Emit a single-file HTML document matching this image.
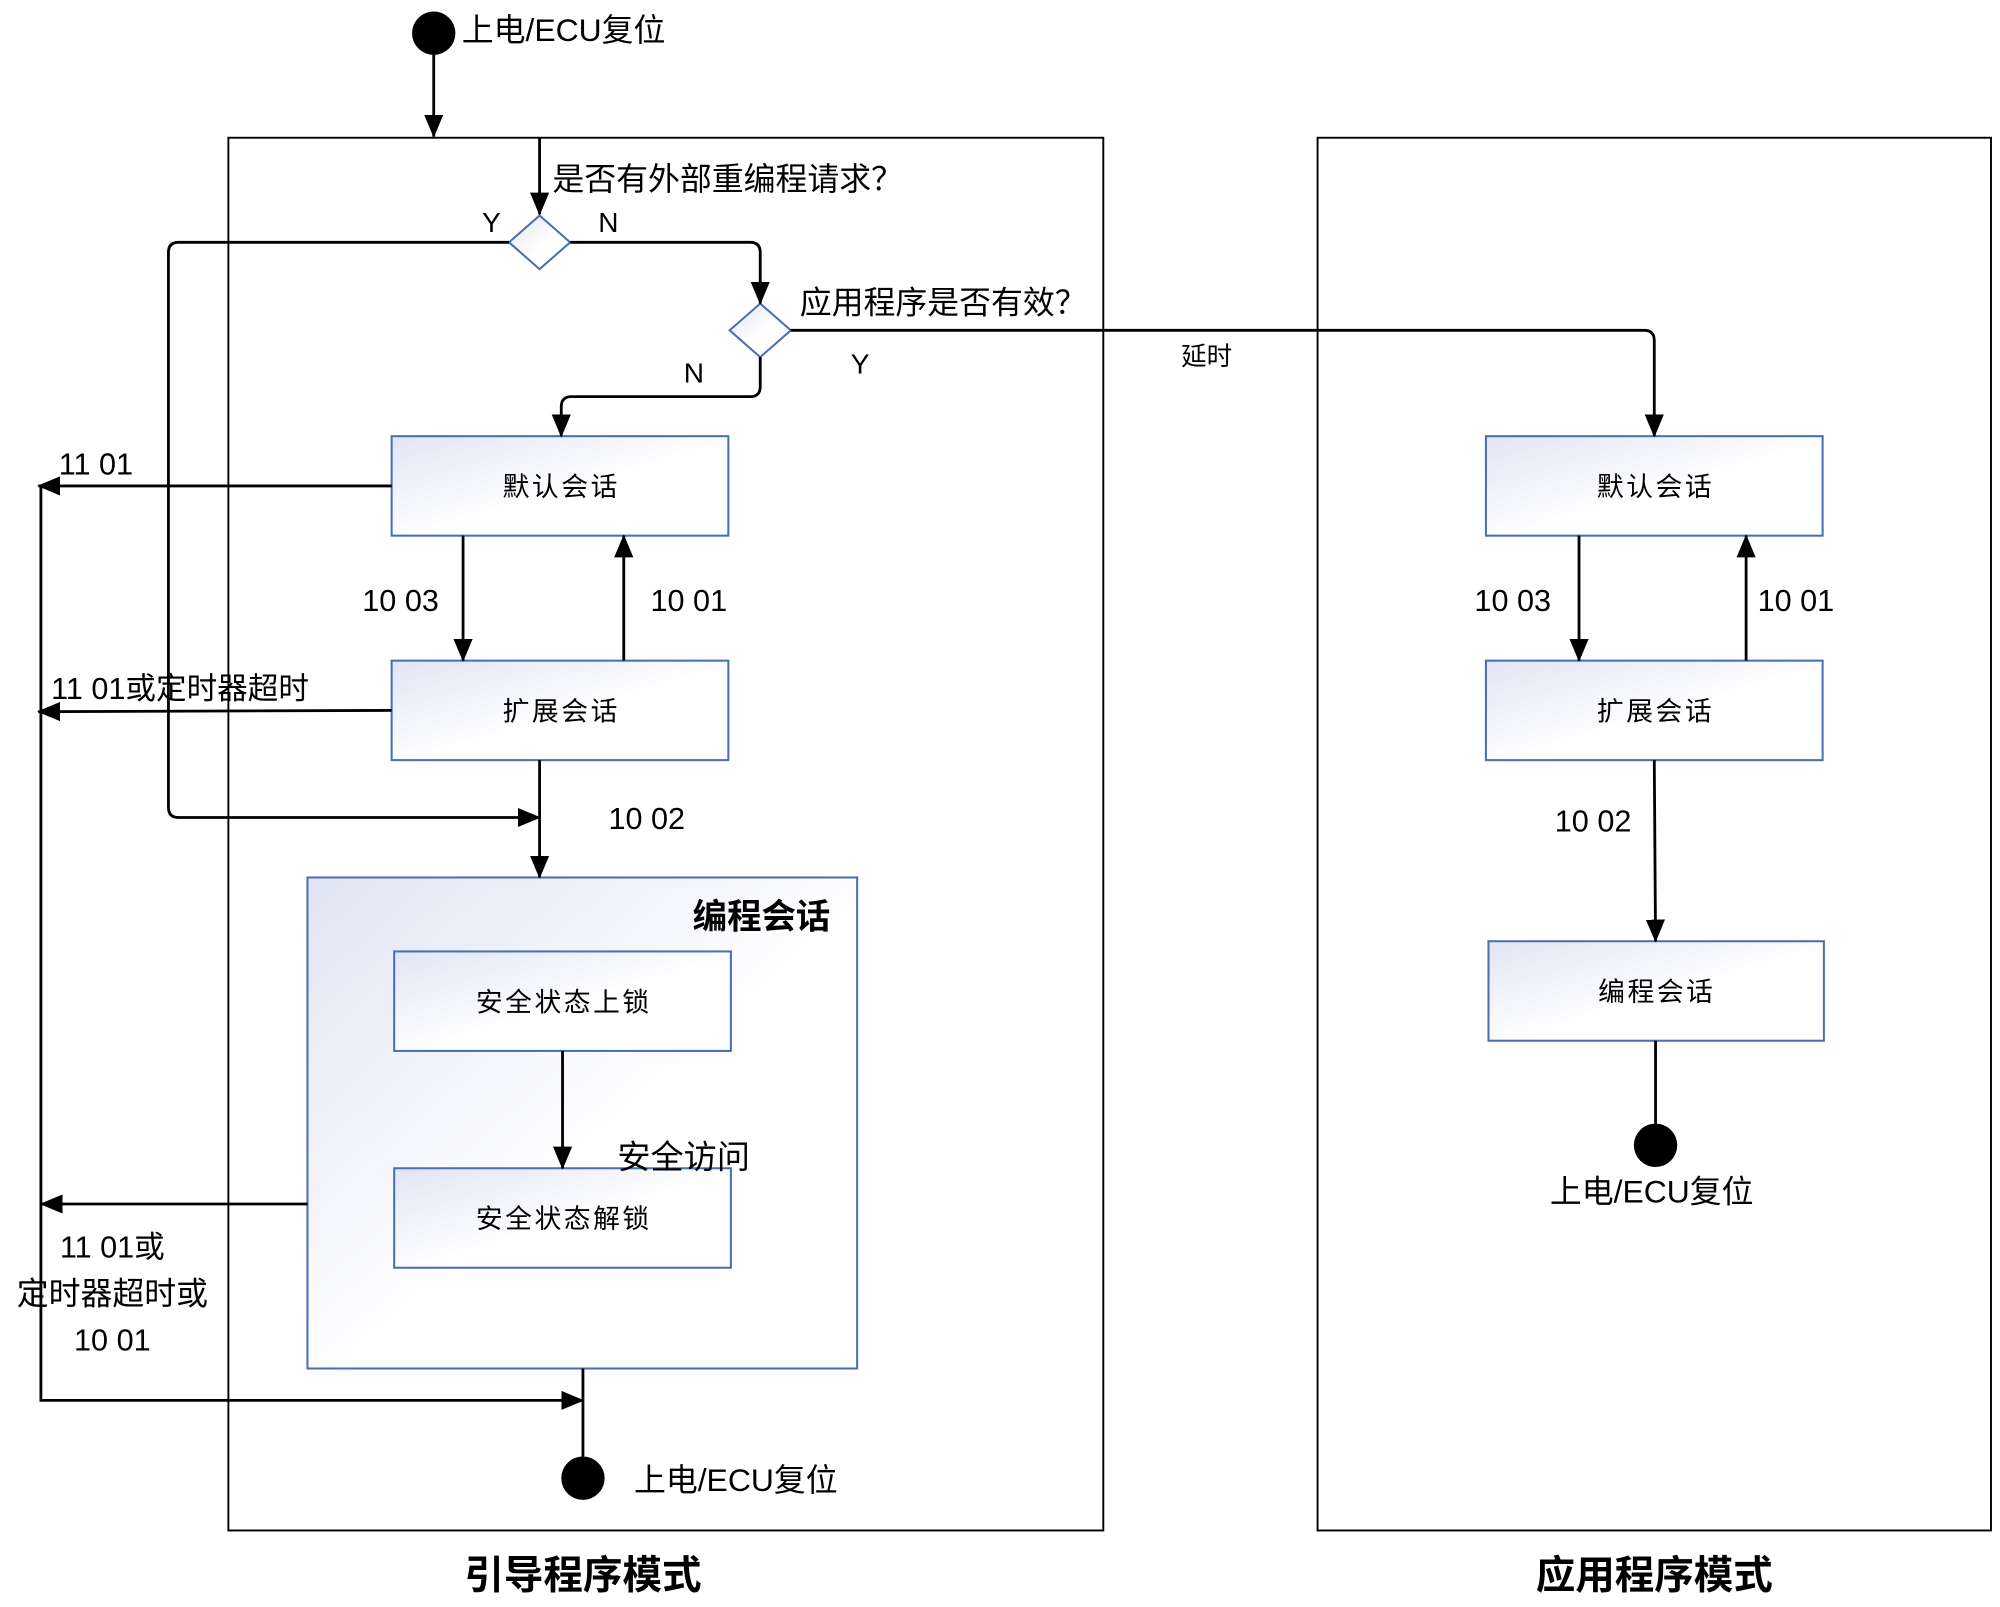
<!DOCTYPE html>
<html><head><meta charset="utf-8">
<style>
html,body{margin:0;padding:0;background:#fff;}
svg{display:block;}
text{font-family:"Liberation Sans","Noto Sans CJK SC",sans-serif;fill:#000;}
.c{font-family:"Noto Sans CJK SC",sans-serif;}
</style></head>
<body>
<svg width="2000" height="1607" viewBox="0 0 1568 1260" xmlns="http://www.w3.org/2000/svg">
<defs>
<linearGradient id="g" x1="0" y1="0" x2="1" y2="1">
<stop offset="0" stop-color="#e1e5f4"/><stop offset="0.55" stop-color="#ffffff"/><stop offset="1" stop-color="#ffffff"/>
</linearGradient>
<marker id="b" markerWidth="18" markerHeight="18" refX="17" refY="9" orient="auto" markerUnits="userSpaceOnUse" viewBox="0 0 18 18">
<path d="M0,1.5 L18,9 L0,16.5 z" fill="#000"/></marker>
</defs>
<g fill="none" stroke="#000" stroke-width="1.5">
<rect x="179" y="108" width="686" height="1092"/>
<rect x="1033" y="108" width="528" height="1092"/>
</g>
<g stroke="#4a6fb0" stroke-width="1.6" fill="url(#g)">
<rect x="241" y="688" width="431" height="385"/>
<rect x="307" y="342" width="264" height="78"/>
<rect x="307" y="518" width="264" height="78"/>
<rect x="309" y="746" width="264" height="78"/>
<rect x="309" y="916" width="264" height="78"/>
<rect x="1165" y="342" width="264" height="78"/>
<rect x="1165" y="518" width="264" height="78"/>
<rect x="1167" y="738" width="263" height="78"/>
<polygon points="423,169 447,190 423,211 399,190"/>
<polygon points="596,238 620,259 596,280 572,259"/>
</g>
<g fill="none" stroke="#000" stroke-width="2.2" marker-end="url(#b)">
<line x1="340" y1="42" x2="340" y2="107"/>
<line x1="423" y1="108" x2="423" y2="168"/>
<path d="M399,190 H140 Q132,190 132,198 V633 Q132,641 140,641 H423"/>
<path d="M447,190 H588 Q596,190 596,198 V238"/>
<path d="M620,259 H1289 Q1297,259 1297,267 V342"/>
<path d="M596,280 V303 Q596,311 588,311 H448 Q440,311 440,319 V342"/>
<line x1="363" y1="420" x2="363" y2="518"/>
<line x1="489" y1="518" x2="489" y2="420"/>
<line x1="307" y1="381" x2="30" y2="381"/>
<line x1="307" y1="557" x2="30" y2="558"/>
<line x1="423" y1="596" x2="423" y2="688"/>
<line x1="441" y1="824" x2="441" y2="916"/>
<line x1="241" y1="944" x2="32" y2="944"/>
<path d="M32,381 V1098 H457"/>
<line x1="1238" y1="420" x2="1238" y2="518"/>
<line x1="1369" y1="518" x2="1369" y2="420"/>
<line x1="1297" y1="596" x2="1298" y2="738"/>
</g>
<g stroke="#000" stroke-width="2.2">
<line x1="457" y1="1073" x2="457" y2="1150"/>
<line x1="1298" y1="816" x2="1298" y2="890"/>
</g>
<g fill="#000">
<ellipse cx="340" cy="26" rx="17" ry="17"/>
<ellipse cx="457" cy="1159" rx="17" ry="17"/>
<ellipse cx="1298" cy="898" rx="17" ry="17"/>
</g>
<g font-size="25">
<text x="362" y="32">上电/ECU复位</text>
<text x="433" y="149">是否有外部重编程请求<tspan class="c">？</tspan></text>
<text x="378" y="182" font-size="22">Y</text>
<text x="469" y="182" font-size="22">N</text>
<text x="627" y="246">应用程序是否有效<tspan class="c">？</tspan></text>
<text x="667" y="293" font-size="22">Y</text>
<text x="536" y="300" font-size="22">N</text>
<text x="926" y="286" font-size="20">延时</text>
<text x="46" y="372" font-size="24">11 01</text>
<text x="284" y="479" font-size="24">10 03</text>
<text x="510" y="479" font-size="24">10 01</text>
<text x="40" y="548" font-size="24">11 01或定时器超时</text>
<text x="477" y="650" font-size="24">10 02</text>
<text x="484" y="916" font-size="26">安全访问</text>
<text x="88" y="986" font-size="24" text-anchor="middle">11 01或</text>
<text x="88" y="1023" font-size="25" text-anchor="middle">定时器超时或</text>
<text x="88" y="1059" font-size="24" text-anchor="middle">10 01</text>
<text x="497" y="1169">上电/ECU复位</text>
<text x="1156" y="479" font-size="24">10 03</text>
<text x="1378" y="479" font-size="24">10 01</text>
<text x="1219" y="652" font-size="24">10 02</text>
<text x="1295" y="943" text-anchor="middle">上电/ECU复位</text>
<text x="651" y="728" font-size="27" font-weight="bold" text-anchor="end">编程会话</text>
<text x="457" y="1246" font-size="31" font-weight="bold" text-anchor="middle">引导程序模式</text>
<text x="1297" y="1246" font-size="31" font-weight="bold" text-anchor="middle">应用程序模式</text>
</g>
<g font-size="21" text-anchor="middle" letter-spacing="2">
<text x="440" y="389">默认会话</text>
<text x="440" y="565">扩展会话</text>
<text x="442" y="793">安全状态上锁</text>
<text x="442" y="963">安全状态解锁</text>
<text x="1298" y="389">默认会话</text>
<text x="1298" y="565">扩展会话</text>
<text x="1299" y="785">编程会话</text>
</g>
</svg>
</body></html>
